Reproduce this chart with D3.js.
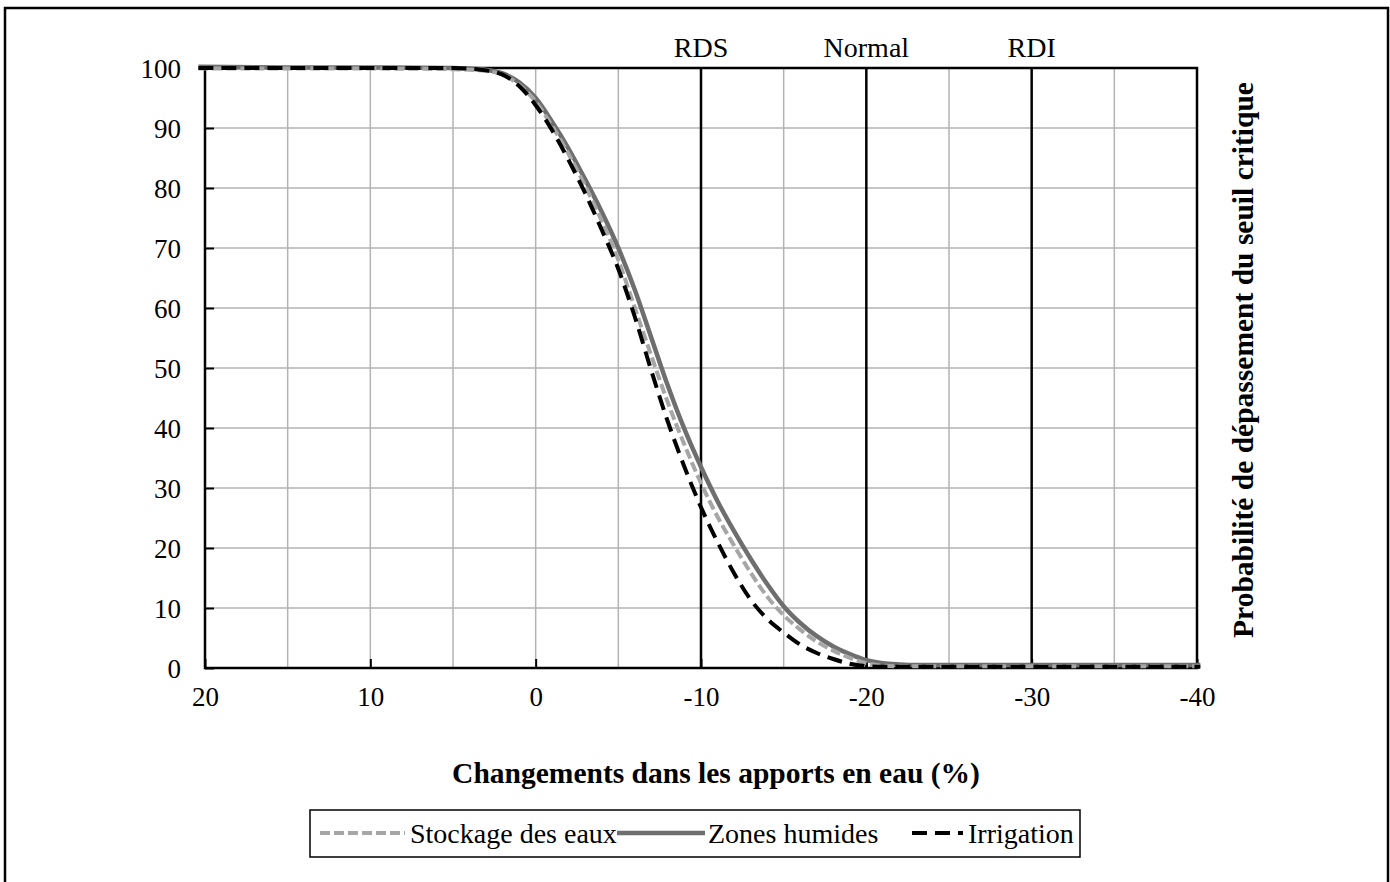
<!DOCTYPE html>
<html>
<head>
<meta charset="utf-8">
<script src="https://cdn.jsdelivr.net/npm/d3@7"></script>
<style>
  html, body { margin: 0; padding: 0; background: #fff; }
  text { font-family: "Liberation Serif", "Times New Roman", serif; fill: #000; }
</style>
</head>
<body>
<svg id="chart" width="1390" height="882"></svg>
<script>
// Change in water inflow (%) at which each probability was evaluated
const inflowChange = [20.4, 15, 10, 5, 4, 3, 2, 1, 0, -1, -2, -3, -4, -5, -6, -7, -8, -9, -10,
  -11, -12, -13, -14, -15, -16, -17, -18, -19, -20, -21, -22, -23, -25, -30, -35, -40.2];

// Probability (%) of exceeding the critical threshold, per water use
const stockage = [99.9, 99.9, 99.9, 99.8, 99.7, 99.5, 98.9, 97.2, 94.4, 90.3, 85.6, 80.3, 74.5, 68, 60, 52, 44.2, 37.2, 30.8,
  25.2, 20.4, 15.9, 11.9, 8.8, 6.4, 4.4, 2.9, 1.7, 0.8, 0.4, 0.3, 0.3, 0.3, 0.3, 0.3, 0.3];
const zonesHumides = [100.2, 100.1, 100.1, 100, 99.9, 99.7, 99.1, 97.6, 95, 91, 86.5, 81.4, 76, 70, 63, 55, 47, 39.8, 33.5,
  27.8, 22.8, 18.2, 14, 10.3, 7.5, 5.3, 3.6, 2.3, 1.3, 0.8, 0.6, 0.5, 0.5, 0.5, 0.5, 0.5];
const irrigation = [100, 100, 100, 100, 99.9, 99.6, 98.9, 97, 93.8, 89.6, 84.6, 79.1, 73, 66.5, 58.5, 49.5, 41, 33.5, 26.8,
  21, 15.8, 11.4, 8.2, 5.9, 3.9, 2.5, 1.5, 0.7, 0.3, 0.2, 0.2, 0.2, 0.2, 0.2, 0.2, 0.2];

const seriesNames = ["Stockage des eaux", "Zones humides", "Irrigation"];

// Axis ticks
const xTicks = [20, 10, 0, -10, -20, -30, -40];
const xGrid = [15, 10, 5, 0, -5, -15, -25, -35];
const yTicks = [0, 10, 20, 30, 40, 50, 60, 70, 80, 90, 100];

// Reference scenarios marked by vertical lines
const refValues = [-10, -20, -30];
const refLabels = ["RDS", "Normal", "RDI"];

const xTitle = "Changements dans les apports en eau (%)";
const yTitle = "Probabilité de dépassement du seuil critique";

const svg = d3.select("#chart");
const plot = { left: 205, right: 1197, top: 68, bottom: 668 };
const serif = '"Liberation Serif", "Times New Roman", serif';

// Outer frame
svg.append("rect")
  .attr("x", 5).attr("y", 8).attr("width", 1383).attr("height", 900)
  .attr("fill", "none").attr("stroke", "#000").attr("stroke-width", 2.5);

const x = d3.scaleLinear().domain([20, -40]).range([plot.left, plot.right]);
const y = d3.scaleLinear().domain([0, 100]).range([plot.bottom, plot.top]);

// Grid
const grid = svg.append("g").attr("stroke", "#b3b3b3").attr("stroke-width", 1.5);
grid.selectAll("line.v").data(xGrid).join("line")
  .attr("x1", d => x(d)).attr("x2", d => x(d))
  .attr("y1", plot.top).attr("y2", plot.bottom);
grid.selectAll("line.h").data(yTicks.filter(d => d > 0 && d < 100)).join("line")
  .attr("x1", plot.left).attr("x2", plot.right)
  .attr("y1", d => y(d)).attr("y2", d => y(d));

// Reference lines
svg.append("g").selectAll("line").data(refValues).join("line")
  .attr("x1", d => x(d)).attr("x2", d => x(d))
  .attr("y1", plot.top).attr("y2", plot.bottom)
  .attr("stroke", "#000").attr("stroke-width", 2.5);
svg.append("g").selectAll("text").data(refValues).join("text")
  .attr("x", d => x(d)).attr("y", 57)
  .attr("text-anchor", "middle").attr("font-size", 28)
  .text((d, i) => refLabels[i]);

// Plot frame
svg.append("rect")
  .attr("x", plot.left).attr("y", plot.top)
  .attr("width", plot.right - plot.left).attr("height", plot.bottom - plot.top)
  .attr("fill", "none").attr("stroke", "#000").attr("stroke-width", 2.5);

// Axes (inward ticks)
const yAxis = d3.axisLeft(y).tickValues(yTicks).tickSize(-9).tickPadding(24).tickFormat(d => String(d));
const yg = svg.append("g").attr("transform", `translate(${plot.left},0)`).call(yAxis);
const xAxis = d3.axisBottom(x).tickValues(xTicks).tickSize(-9).tickPadding(30).tickFormat(d => String(d));
const xg = svg.append("g").attr("transform", `translate(0,${plot.bottom})`).call(xAxis);
[yg, xg].forEach(g => {
  g.select(".domain").remove();
  g.selectAll(".tick line").attr("stroke", "#000").attr("stroke-width", 2);
  g.selectAll(".tick text").attr("font-size", 27)
    .style("font-family", serif).attr("fill", "#000");
});
yg.selectAll(".tick text").attr("dy", "0.35em");
xg.selectAll(".tick text").attr("dy", "0.3em");

// Series
const seriesValues = [stockage, zonesHumides, irrigation];
const styles = [
  { color: "#a6a6a6", width: 4, dash: "10,4" },
  { color: "#6e6e6e", width: 4.5, dash: null },
  { color: "#000000", width: 4, dash: "15,8" }
];
const line = d3.line()
  .x(d => x(d[0])).y(d => y(d[1]))
  .curve(d3.curveMonotoneX);
const drawOrder = [1, 0, 2];
drawOrder.forEach(i => {
  const pts = inflowChange.map((v, k) => [v, seriesValues[i][k]]);
  svg.append("path")
    .datum(pts)
    .attr("d", line)
    .attr("fill", "none")
    .attr("stroke", styles[i].color)
    .attr("stroke-width", styles[i].width)
    .attr("stroke-dasharray", styles[i].dash);
});

// Axis titles
svg.append("text")
  .attr("x", 716).attr("y", 783)
  .attr("text-anchor", "middle").attr("font-size", 29.5).attr("font-weight", "bold")
  .text(xTitle);
svg.append("text")
  .attr("transform", `translate(1253,360) rotate(-90)`)
  .attr("text-anchor", "middle").attr("font-size", 29.5).attr("font-weight", "bold")
  .text(yTitle);

// Legend
const legend = svg.append("g");
legend.append("rect")
  .attr("x", 310).attr("y", 810).attr("width", 770).attr("height", 47)
  .attr("fill", "#fff").attr("stroke", "#000").attr("stroke-width", 1.5);
const sampleX = [[320, 405], [617, 705], [912, 963]];
const textX = [410, 708, 968];
const ly = 833;
seriesNames.forEach((name, i) => {
  legend.append("line")
    .attr("x1", sampleX[i][0]).attr("x2", sampleX[i][1])
    .attr("y1", ly).attr("y2", ly)
    .attr("stroke", styles[i].color)
    .attr("stroke-width", styles[i].width)
    .attr("stroke-dasharray", styles[i].dash);
  legend.append("text")
    .attr("x", textX[i]).attr("y", ly + 10)
    .attr("font-size", 28)
    .text(name);
});
</script>
</body>
</html>
